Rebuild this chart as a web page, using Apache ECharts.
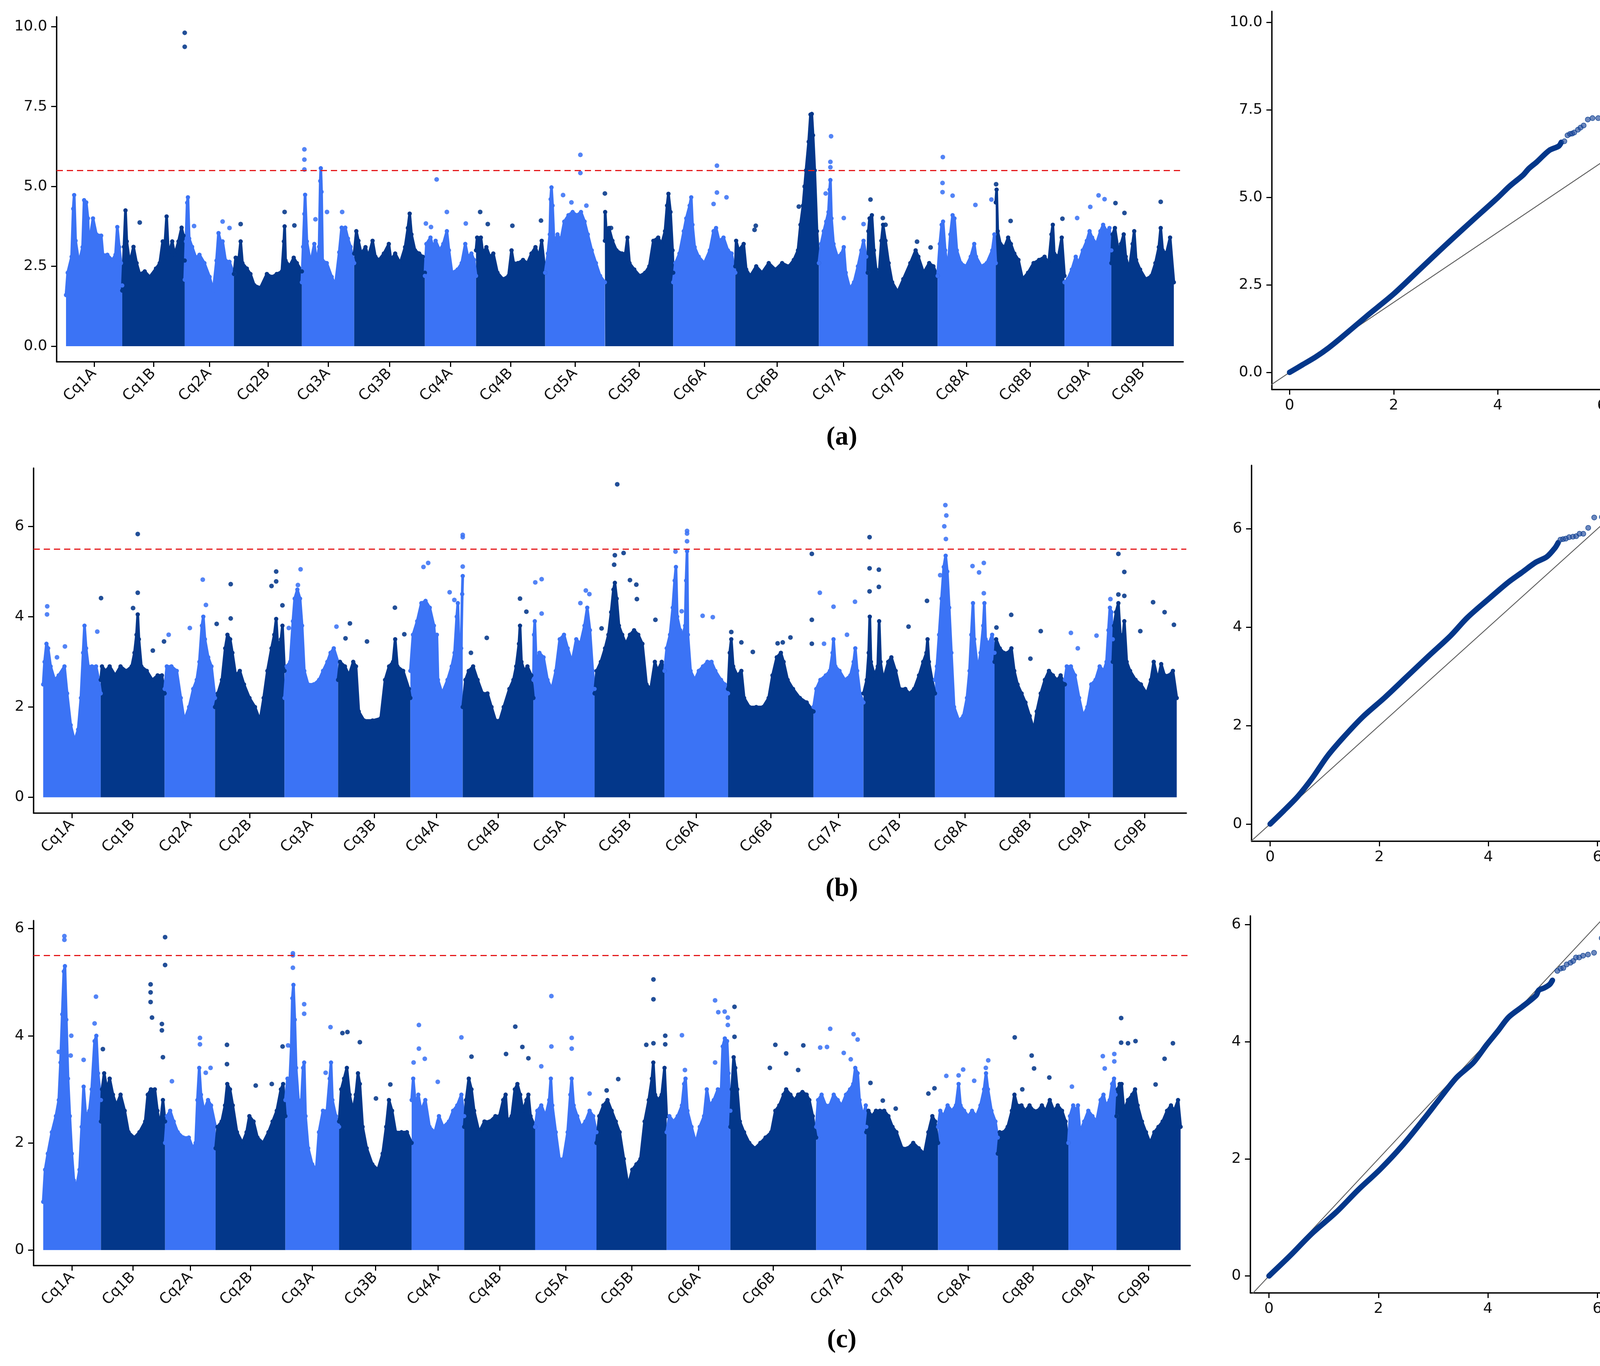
<!DOCTYPE html>
<html><head><meta charset="utf-8">
<script src="https://cdn.jsdelivr.net/npm/echarts@6/dist/echarts.min.js"></script>
<style>html,body{margin:0;padding:0;background:#fff}#c{width:4294px;height:3496px}</style>
</head><body><div id="c"></div>
<script>
// ---------- DATA ----------
const chromosomes = ['Cq1A','Cq1B','Cq2A','Cq2B','Cq3A','Cq3B','Cq4A','Cq4B','Cq5A','Cq5B','Cq6A','Cq6B','Cq7A','Cq7B','Cq8A','Cq8B','Cq9A','Cq9B'];
// relative chromosome lengths
const chromLengths = [144,160,126,174,134,181,131,177,153,175,159,214,125,179,149,176,120,160];
const threshold = 5.5;

// Panel (a): upper envelope of -log10(p) per chromosome, [position % along chromosome, value]
const peaksA = [
 [[0,1.6],[3,2.3],[10,2.8],[12.8,4.3],[14.5,4.73],[17,3.3],[23,2.6],[29.5,3.1],[32.2,4.57],[36,4.5],[39,4.0],[42,2.3],[43.6,3.5],[48,4.0],[54,3.5],[62.6,3.46],[65.6,2.86],[73.6,2.86],[82.4,2.7],[88,2.86],[91.2,3.73],[94.7,3.1],[97.8,2.6],[100,1.9]],
 [[0,1.74],[2.8,3.11],[5.2,4.25],[7.2,3.28],[12,2.6],[18,3.11],[23,2.6],[28,2.26],[36,2.34],[44,2.17],[54,2.43],[60,2.6],[64.8,3.28],[68,3.11],[71,4.06],[74,2.86],[80,3.28],[84,2.86],[90,3.28],[95,3.71],[98,3.46],[100,2.68]],
 [[0,2.08],[2.5,3.28],[5,4.49],[6.5,4.66],[9,3.37],[15,3.11],[22.7,2.77],[30,2.86],[40,2.6],[50.5,2.17],[58,1.74],[64.6,2.68],[68.7,3.54],[73,3.28],[77,3.28],[83,2.68],[91,2.64],[100,2.26]],
 [[0,2.26],[2.6,2.77],[7.4,2.77],[9.9,3.28],[12.5,2.6],[19,2.43],[24.3,2.26],[30,1.91],[39,1.83],[48.5,2.26],[55.9,2.17],[63,2.26],[70.6,2.34],[73.5,3.28],[74.6,3.75],[76,2.68],[82,2.51],[88,2.77],[92.6,2.6],[100,2.34]],
 [[0,2.0],[2.4,3.11],[4.8,4.14],[6.2,4.74],[9.5,3.28],[16.7,2.6],[23.8,3.2],[28.6,2.6],[33,3.11],[35.2,5.17],[36.2,5.57],[37.6,4.83],[39.5,2.68],[47.6,2.6],[57,2.17],[64,1.91],[71.4,2.94],[76,3.71],[83,3.71],[88,3.37],[93,3.11],[100,2.6]],
 [[0,2.9],[3,3.6],[6,3.3],[10,2.9],[16,3.1],[20,2.8],[26,3.3],[30,2.8],[35,2.7],[42,2.9],[49,3.2],[52,2.7],[58,2.9],[65,2.6],[72,3.1],[76,3.7],[78.5,4.15],[81,3.5],[86,3.0],[92,2.9],[97,2.8],[100,2.3]],
 [[0,2.2],[3,3.2],[11,3.4],[16,3.1],[21,3.3],[29,3.0],[36,3.2],[43,3.6],[47,3.0],[53,2.3],[64,2.4],[72,2.6],[79,3.2],[84,2.8],[91,2.9],[96,2.7],[100,2.2]],
 [[0,3.0],[1.6,3.4],[7,3.4],[10,2.9],[15,3.1],[20,2.8],[25,2.9],[31,2.3],[39,2.1],[47,2.2],[51.4,3.0],[54.5,2.6],[60.5,2.6],[68,2.7],[74.3,2.6],[80.2,2.9],[86,3.1],[91,2.8],[95,3.3],[100,2.3]],
 [[0,2.3],[4.6,2.9],[7.8,3.5],[9.2,4.6],[10.6,4.97],[12.4,4.4],[15,3.2],[20.7,3.5],[26,3.3],[32,3.9],[39,4.1],[46,4.2],[53,4.1],[60,4.2],[66,3.9],[71.4,3.5],[78,3.0],[85,2.6],[92,2.2],[100,2.0]],
 [[0,3.3],[0.4,4.2],[2,3.6],[6,3.7],[11,3.3],[17,3.0],[25,2.9],[30,2.9],[33,3.4],[36,2.6],[43,2.4],[51,2.2],[59,2.3],[65,2.5],[71,3.3],[78,3.4],[83,3.2],[88,3.6],[91,4.4],[93,4.77],[96,4.2],[99,3.0],[100,2.3]],
 [[0,2.0],[3.5,2.6],[10,2.9],[17,3.6],[21,4.0],[26.5,4.4],[29,4.66],[31,3.8],[34.5,3.1],[41,2.8],[50,2.6],[59,3.0],[65,3.6],[69,3.7],[74,3.3],[81,3.4],[88,3.0],[94,2.9],[100,2.3]],
 [[0,2.5],[1,3.3],[4,3.0],[10,3.2],[13,2.4],[18,2.2],[25,2.5],[32,2.3],[40,2.6],[48,2.4],[56,2.6],[64,2.5],[70,2.7],[75,3.0],[78,3.8],[81,4.4],[84.6,5.5],[87.8,6.4],[90,7.25],[91.5,7.27],[93,6.6],[95,5.5],[97.7,3.6],[100,2.6]],
 [[0,2.6],[4.5,3.2],[10,3.6],[15,3.9],[19.7,4.2],[22,4.9],[23.6,5.2],[25.8,4.0],[30,3.2],[38,2.8],[46.6,2.9],[51,3.1],[55,2.3],[63.5,1.8],[72,2.0],[80,2.5],[87,3.0],[91.5,3.3],[97,2.8],[100,2.3]],
 [[0,2.3],[1,3.6],[2.7,4.0],[6,4.1],[9,3.0],[12,2.4],[15.7,2.1],[19.6,3.3],[22,3.8],[25.5,3.3],[30,2.6],[35,2.0],[43,1.7],[51,2.1],[61,2.6],[68.6,3.0],[72.5,2.8],[80,2.3],[88,2.6],[94,2.5],[100,2.2]],
 [[0,2.2],[3.8,3.2],[7,3.8],[9.4,3.9],[13,3.0],[17.8,2.4],[22,3.5],[25.8,4.1],[29,4.0],[33,3.0],[40,2.6],[49,2.5],[57,2.8],[63,3.2],[66,2.8],[75,2.5],[84.5,2.6],[94,3.0],[97.6,3.5],[100,2.6]],
 [[0,4.5],[1.2,4.9],[2.8,3.6],[6.8,3.2],[12.8,3.1],[18,3.4],[22,3.2],[27,2.9],[33,2.7],[39,2.1],[47,2.3],[55,2.6],[63,2.7],[71,2.8],[77,2.6],[81,3.5],[83,3.8],[85,2.9],[91,2.8],[96,3.4],[100,2.2]],
 [[0,2.0],[7,2.1],[15.7,2.4],[24,2.8],[30,2.6],[39,3.0],[47.7,3.3],[53.5,3.6],[59,3.4],[68,3.2],[76.7,3.6],[82.5,3.8],[90,3.6],[96,3.7],[100,3.0]],
 [[0,2.6],[2,3.5],[5.7,3.7],[11,3.0],[15.4,3.2],[19.8,3.5],[23,2.8],[28.6,2.4],[34,3.2],[36.6,3.6],[39.6,2.7],[46,2.4],[55,2.1],[64,2.2],[70.5,2.6],[76,3.1],[79,3.7],[82,3.0],[88,2.9],[94,3.4],[100,2.0]]
];
// isolated SNPs above the envelope: [chromosome index, position %, value]
const outliersA = [
 [1,100,9.81],[1,100,9.37],[1,28,3.87],
 [2,77,3.9],[2,91,3.7],[2,19,3.76],
 [3,74.6,4.2],[3,9.9,3.82],[3,89,3.78],
 [4,4.8,6.16],[4,4.8,5.84],[4,4.8,5.53],[4,48,4.2],[4,77,4.2],[4,26,3.97],
 [6,23,5.22],[6,43,4.2],[6,2,3.84],[6,12,3.73],[6,80,3.84],
 [7,6,4.2],[7,52.6,3.77],[7,94,3.93],[7,17,3.82],
 [8,59,5.99],[8,59,5.42],[8,30,4.73],[8,44,4.5],[8,69,4.4],
 [9,0,4.78],[9,9,3.7],
 [10,70.4,5.65],[10,70.4,4.81],[10,85.8,4.66],[10,65,4.45],
 [11,24.5,3.77],[11,76,4.37],[11,83,5.0],[11,23,3.64],
 [12,25,6.57],[12,23.6,5.77],[12,23.6,5.6],[12,51,4.01],[12,91.5,3.82],[12,14,4.78],
 [13,4,4.59],[13,21.6,4.01],[13,25.5,3.8],[13,70.6,3.27],[13,90,3.09],
 [14,9,5.92],[14,8.5,5.11],[14,8.5,4.82],[14,25.8,4.71],[14,65,4.42],[14,92.5,4.59],
 [15,0.5,5.07],[15,21.6,3.92],[15,97,3.99],
 [16,72.7,4.72],[16,55,4.36],[16,85.5,4.6],[16,27,4.01],
 [17,6.6,4.48],[17,21,4.17],[17,79,4.52]
];

// Panel (b)
const peaksB = [
 [[0,2.5],[2.4,3.0],[5.7,3.4],[8.6,3.3],[12.9,2.9],[20,2.6],[27,2.7],[37,2.9],[41.6,2.3],[47.8,1.6],[54.5,1.25],[60.8,1.5],[65.6,2.2],[69.4,3.2],[71.8,3.8],[74.6,3.3],[78.5,2.9],[84.7,2.9],[91.9,2.9],[96.7,2.6],[100,2.3]],
 [[0,2.6],[2,2.9],[7.7,2.8],[14,2.9],[22.7,2.7],[31,2.9],[40,2.8],[48.5,2.9],[52.8,3.2],[56,3.6],[57.9,4.05],[59.7,3.5],[63.5,2.9],[72,2.8],[80.7,2.6],[89,2.7],[95.7,2.7],[100,2.3]],
 [[0,2.4],[4.3,2.9],[13.5,2.9],[24,2.8],[32,2.2],[38.9,1.7],[48.6,2.0],[56.8,2.4],[63.8,2.6],[69,3.0],[74,3.8],[76.8,4.0],[80,3.5],[86.5,3.1],[93,2.9],[100,2.2]],
 [[0,2.0],[4,2.3],[10,2.6],[14.7,3.3],[17.9,3.6],[21.8,3.5],[25,3.2],[29.8,2.7],[35.7,2.8],[41.7,2.5],[49.6,2.2],[57.5,2.0],[64.7,1.7],[70,2.2],[75.4,2.8],[81.3,3.3],[85.3,3.6],[88,3.95],[90.5,3.3],[95,3.5],[97,3.8],[100,2.8]],
 [[0,2.2],[4,2.9],[10.6,3.0],[15.7,3.9],[19,4.4],[24,4.6],[29,4.4],[32.8,3.8],[36.9,2.8],[44,2.5],[54.5,2.5],[64.6,2.6],[72,2.8],[80,3.0],[86,3.2],[92,3.3],[100,3.0]],
 [[0,2.6],[2.7,3.0],[9.5,2.9],[15,2.7],[21,3.0],[24.8,2.9],[28.6,1.9],[36,1.7],[47.7,1.7],[59,1.75],[65,2.6],[70.6,2.9],[76,3.0],[79,3.5],[82,2.9],[90,2.8],[98,2.4],[100,2.2]],
 [[0,2.8],[5,3.6],[13,3.9],[21,4.3],[29,4.35],[37,4.2],[45,3.8],[48.5,3.3],[50.6,3.6],[52.7,2.6],[60.7,2.3],[71,2.6],[79,2.9],[84.4,3.2],[88.6,4.0],[90.7,4.3],[92.8,3.4],[97,3.3],[99,4.5],[100,4.9]],
 [[0,2.0],[3.9,2.6],[8.5,2.8],[14.7,2.9],[21,2.6],[28,2.3],[35,2.3],[40.7,2.0],[46.5,1.7],[52.3,1.7],[58,2.0],[66,2.4],[71.7,2.6],[75.6,2.9],[79.5,3.4],[81,3.8],[83,3.0],[87,2.8],[91.5,2.9],[97,2.7],[100,2.2]],
 [[0,2.6],[0.9,3.6],[2.2,3.9],[4.5,3.0],[9.8,3.2],[16.5,3.1],[23,2.6],[30,2.4],[36.6,2.8],[43,3.5],[50,3.6],[56,3.3],[63,3.0],[70,3.5],[76.8,3.4],[83.5,3.8],[88,4.2],[92.4,3.7],[96.9,2.8],[100,2.4]],
 [[0,2.3],[3,2.8],[9,3.0],[15,3.3],[19.8,3.6],[23.7,4.1],[27,4.6],[29,4.75],[31.6,4.4],[34.8,3.8],[39.5,3.6],[44.7,3.4],[50.6,3.6],[56.5,3.7],[62.5,3.6],[68.4,3.4],[74.3,2.5],[80.2,2.4],[86.2,3.0],[90,2.8],[96,3.0],[100,2.8]],
 [[0,2.8],[3.5,3.3],[8.7,3.6],[13,4.2],[16,4.8],[18,5.1],[20,4.0],[24.7,3.7],[29,3.6],[32.5,3.8],[34,4.8],[35.5,5.45],[36.8,3.6],[41,2.8],[47.6,2.6],[54,2.8],[60.6,2.9],[67.5,3.0],[74,3.0],[80,2.8],[89,2.6],[95,2.5],[100,2.3]],
 [[0,2.4],[2,3.2],[3.8,3.5],[6,2.9],[10.8,2.7],[15.6,2.8],[18.8,2.2],[25,2.0],[33,2.0],[41,2.0],[47.5,2.2],[52,2.7],[57,3.1],[61.8,3.2],[65,3.0],[69.7,2.6],[76,2.4],[84,2.2],[92,2.1],[100,1.9]],
 [[0,2.0],[5.5,2.4],[13.7,2.6],[24.6,2.7],[32.8,2.8],[38,3.2],[40,3.5],[43.7,2.9],[52,2.8],[62.8,2.6],[73.8,2.7],[80.3,3.0],[83.6,3.3],[87.4,2.8],[93,2.3],[100,2.1]],
 [[0,2.3],[4.6,2.6],[7.3,3.2],[8.8,4.0],[10.4,3.0],[15.4,2.7],[20,2.9],[21.9,3.9],[23.8,3.0],[27.7,2.6],[34.6,3.0],[39,3.1],[45,2.8],[50.8,2.4],[58.5,2.4],[64,2.3],[70.8,2.4],[77.7,2.7],[83.5,3.0],[88,3.2],[89.6,3.5],[91.5,3.0],[96,2.6],[100,2.3]],
 [[0,2.6],[3.2,2.9],[6.9,3.6],[11,4.4],[14.7,5.1],[17.9,5.35],[20.6,5.0],[23.8,4.2],[27.5,3.2],[32,2.0],[40,1.7],[47.7,1.8],[53.7,2.2],[58,2.8],[61,3.6],[63.8,4.3],[66,3.5],[72,2.8],[76.6,3.2],[81,3.8],[83,4.3],[85,3.5],[90.4,3.4],[96,3.6],[100,3.2]],
 [[0,3.0],[2.3,3.5],[7.4,3.3],[13.2,3.2],[19,3.2],[24,3.3],[28,2.8],[32.7,2.5],[38.5,2.3],[44,2.1],[50,1.8],[56,1.5],[60,1.9],[65.7,2.3],[71.6,2.6],[77.4,2.8],[83,2.7],[89,2.6],[94,2.7],[100,2.5]],
 [[0,2.6],[4,2.9],[12.6,2.9],[21,2.7],[29.7,2.2],[38,1.8],[47,2.0],[55,2.5],[64,2.6],[72.6,2.9],[81,2.8],[86.9,3.0],[90.9,3.7],[94,4.2],[97,4.1],[100,3.5]],
 [[0,3.0],[2,3.8],[5,4.1],[8.7,4.3],[11.7,3.6],[14.8,3.4],[18,3.9],[21.7,3.0],[27,2.8],[35.6,2.6],[44,2.5],[53,2.3],[59.6,2.6],[64,3.0],[70.4,2.6],[75.7,2.95],[81,2.7],[87.8,2.7],[94,2.8],[100,2.2]]
];
const outliersB = [
 [0,7,4.23],[0,6.7,4.05],[0,37.8,3.34],[0,94,3.67],[0,24,3.1],
 [1,57.9,5.83],[1,57.9,4.53],[1,0.5,4.41],[1,50.6,4.19],[1,99,3.45],[1,81.5,3.25],
 [2,75.7,4.82],[2,82,4.26],[2,50,3.75],[2,8,3.6],
 [3,88,5.0],[3,88,4.78],[3,81.3,4.68],[3,22.6,4.72],[3,22.6,3.96],[3,2.4,3.84],[3,97,4.25],
 [4,30,5.05],[4,25,4.7],[4,97,3.78],[4,8,3.75],
 [5,78.6,4.2],[5,16.4,3.85],[5,10.3,3.52],[5,40,3.45],[5,91.6,3.61],
 [6,100,5.81],[6,100,5.76],[6,100,5.11],[6,34,5.19],[6,25,5.1],[6,75,4.54],[6,84,4.37],
 [7,81,4.4],[7,90,4.11],[7,34,3.53],[7,11.6,3.2],
 [8,13.4,4.83],[8,3,4.76],[8,13.4,4.07],[8,85.7,4.58],[8,91.5,4.5],[8,76.8,4.3],
 [9,32.4,6.93],[9,29,5.36],[9,41.5,5.41],[9,28,5.15],[9,50.6,4.81],[9,59.7,4.71],[9,60.5,4.39],[9,87,3.93],[9,10,3.74],
 [10,35.5,5.9],[10,35.5,5.84],[10,35.5,5.67],[10,17.3,5.44],[10,60,4.02],[10,76,3.99],[10,27,4.12],
 [11,3.8,3.66],[11,15.6,3.43],[11,64,3.43],[11,73,3.54],[11,58,3.41],[11,29,3.22],[11,98,5.39],[11,98,3.93],[11,98,3.4],
 [12,12.6,4.53],[12,40,4.22],[12,83,4.33],[12,67,3.6],[12,21,3.4],
 [13,8.5,5.76],[13,8.5,5.07],[13,21.5,5.04],[13,8.5,4.56],[13,21.5,4.66],[13,88.8,4.35],[13,63,3.78],
 [14,17.4,6.47],[14,19,6.24],[14,15.6,6.0],[14,18.3,5.72],[14,8.7,4.92],[14,63,5.12],[14,82,5.19],[14,74,4.98],[14,82,4.52],
 [15,23.7,4.04],[15,65.7,3.68],[15,2.7,3.76],[15,51,3.07],
 [16,95,4.39],[16,12.6,3.64],[16,66,3.58],[16,27,3.3],
 [17,8.7,5.39],[17,18,4.99],[17,8.7,4.49],[17,18,4.46],[17,63,4.32],[17,81,4.1],[17,95.6,3.82],[17,43,3.68]
];

// Panel (c)
const peaksC = [
 [[0,0.9],[3.3,1.5],[8,1.8],[15,2.2],[22,2.5],[27,2.8],[30,3.5],[33,4.4],[35.7,5.2],[37.6,5.3],[40,4.3],[42.9,3.2],[46,2.5],[49.5,1.8],[53,1.3],[58,1.2],[62.9,1.5],[66.7,2.3],[70,3.05],[73.8,2.5],[80,2.6],[84,3.0],[89,3.9],[92,4.0],[95,3.3],[100,2.8]],
 [[0,2.4],[1.7,3.0],[5,3.3],[9.4,3.0],[13.6,3.2],[18.7,2.9],[24,2.7],[30.6,2.9],[37,2.6],[43,2.2],[52,2.1],[60,2.2],[69,2.4],[73,2.9],[77.9,3.0],[84,3.0],[88,2.6],[92,2.3],[96.6,2.8],[100,2.4]],
 [[0,2.0],[3.8,2.5],[10,2.6],[17,2.4],[25,2.2],[36,2.1],[47,2.1],[55,1.9],[60.5,2.0],[64,2.8],[67.6,3.4],[71,2.9],[77,2.6],[85,2.8],[91,2.7],[100,2.3]],
 [[0,1.9],[2.8,2.3],[8.7,2.4],[13.5,2.7],[16.7,3.1],[20.6,3.0],[24.6,2.7],[30.6,2.2],[38.5,2.0],[44.4,2.2],[48.4,2.5],[54.4,2.4],[60,2.1],[68,2.0],[75.8,2.2],[81.7,2.4],[87.7,2.6],[93.6,3.0],[96.8,3.1],[100,2.5]],
 [[0,2.8],[4,3.2],[7.5,3.0],[11,3.8],[13,4.7],[15,4.95],[17.5,4.3],[20,3.4],[25,2.7],[30,2.8],[33,3.4],[35,3.5],[37.5,2.5],[42.5,1.9],[50,1.6],[57.5,1.5],[62.5,2.2],[70,2.6],[77.5,2.6],[82.5,3.2],[85,3.5],[87.5,2.8],[94,2.5],[100,2.3]],
 [[0,2.4],[3,3.0],[6.9,3.2],[10.7,3.4],[14.5,2.9],[19,2.6],[23,2.9],[26,3.3],[28.6,3.1],[32.4,2.3],[38,1.9],[45.8,1.6],[53.4,1.5],[60,1.8],[64.9,2.3],[68.7,2.8],[73,2.6],[78,2.2],[86,2.2],[93.5,2.2],[100,2.0]],
 [[0,2.8],[3,3.2],[7.4,2.7],[12.7,2.9],[18,2.6],[26,2.8],[34,2.3],[44,2.2],[52,2.5],[60,2.3],[71,2.4],[79,2.6],[86.8,2.7],[94.7,2.9],[100,2.5]],
 [[0,2.3],[2.7,2.8],[6.5,3.2],[10.3,3.0],[14,2.6],[21,2.2],[28.6,2.4],[36,2.4],[44,2.5],[49.6,2.5],[55,2.8],[58.4,2.9],[61,2.4],[67,2.5],[71.4,3.0],[75,3.1],[79,2.9],[82.8,2.6],[87.8,2.8],[90.5,2.9],[93.5,2.5],[100,2.3]],
 [[0,2.3],[3.6,2.6],[10,2.7],[17,2.5],[23,2.8],[25.6,3.2],[28,2.7],[33.6,2.2],[39.5,1.7],[46,1.7],[53,2.2],[57.4,2.9],[59.6,3.2],[62.8,2.7],[68.6,2.5],[75,2.3],[82,2.4],[88.8,2.6],[94.6,2.5],[100,2.2]],
 [[0,2.0],[4,2.5],[9.8,2.7],[15.7,2.8],[21.6,2.6],[27.5,2.4],[33,2.2],[39,1.7],[45,1.2],[51,1.5],[56.9,1.6],[62.7,1.7],[68.6,2.4],[74.5,2.8],[79,3.2],[81,3.5],[83.5,2.9],[88,2.8],[93,2.9],[97,3.4],[100,2.5]],
 [[0,2.2],[4.3,2.5],[10.9,2.4],[17.4,2.5],[24,2.7],[27.4,3.1],[29.6,3.2],[32.6,2.6],[39,2.3],[45.7,2.0],[52,2.3],[58.7,2.5],[63,3.0],[67.4,2.7],[74,2.8],[80.4,3.0],[85.6,3.0],[88,3.8],[91.3,3.95],[94.8,3.9],[97,3.3],[100,2.6]],
 [[0,2.3],[1.6,3.0],[3.8,3.6],[5.7,3.4],[8,3.0],[11,2.4],[15.9,2.2],[22,2.0],[28.6,1.9],[35,2.0],[41,2.1],[47.6,2.2],[52.4,2.6],[57,2.7],[62,2.9],[65,3.0],[70,2.9],[74.6,2.8],[79,2.9],[84,2.95],[88.9,2.9],[92,2.8],[96,2.5],[100,2.1]],
 [[0,2.3],[3.8,2.8],[10.8,2.9],[19,2.7],[27,2.7],[35,2.9],[43,2.8],[51,2.7],[59.5,2.9],[67.6,3.0],[74,3.1],[78,3.4],[82.7,3.3],[86.5,2.8],[93.5,2.5],[99,2.7],[100,2.3]],
 [[0,2.2],[3,2.6],[7.7,2.5],[13.5,2.6],[19,2.6],[25,2.6],[30.8,2.5],[36.5,2.3],[42,2.2],[50,1.9],[57.7,1.9],[65.4,2.0],[73,1.9],[80.8,1.8],[86.5,2.2],[92,2.5],[96,2.4],[100,2.0]],
 [[0,2.3],[3.7,2.6],[9,2.5],[16,2.7],[23,2.6],[30,2.7],[34.4,3.1],[37.6,2.7],[43.6,2.6],[50.5,2.5],[57,2.6],[64,2.5],[71,2.7],[77,3.0],[80.3,3.3],[83.5,3.0],[89.4,2.6],[96,2.4],[100,2.1]],
 [[0,1.8],[2.7,2.2],[8.5,2.2],[14,2.3],[20,2.6],[23.6,2.9],[27.4,2.7],[33.6,2.7],[39,2.6],[45,2.7],[51,2.6],[56.8,2.6],[62.5,2.7],[68,2.6],[73.7,2.8],[79.5,2.6],[85,2.7],[91,2.6],[96,2.4],[100,2.0]],
 [[0,2.0],[3.4,2.5],[10,2.7],[16,2.6],[20,2.7],[24,2.2],[33,2.4],[41.5,2.6],[50,2.5],[58.5,2.4],[67,2.8],[73,2.9],[78,2.7],[86,2.8],[91,3.1],[95,3.2],[98,2.9],[100,2.5]],
 [[0,2.5],[2,3.0],[5,3.1],[8,3.1],[11.6,2.6],[18,2.8],[24.6,2.9],[29,3.0],[33,2.7],[39.7,2.4],[46,2.2],[52.6,2.0],[59,2.2],[65.5,2.3],[72,2.4],[78.9,2.6],[85,2.7],[90,2.6],[96,2.8],[100,2.3]]
];
const outliersC = [
 [0,36.7,5.86],[0,36.7,5.79],[0,48.6,4.0],[0,91.4,4.73],[0,89,4.23],[0,27,3.7],[0,70,3.55],[0,47.6,3.63],
 [1,100,5.84],[1,100,5.32],[1,77.4,4.96],[1,77.4,4.81],[1,77.4,4.63],[1,79.6,4.34],[1,95,4.22],[1,95,4.1],[1,3,3.75],[1,96.6,3.6],
 [2,69,3.96],[2,69,3.84],[2,90,3.4],[2,13.5,3.15],[2,80.5,3.31],
 [3,16.3,3.83],[3,16.3,3.47],[3,96,3.8],[3,57.5,3.07],[3,80.5,3.1],
 [4,14,5.54],[4,14,5.5],[4,14,5.27],[4,35,4.59],[4,35,4.41],[4,84,4.16],[4,5,3.82],[4,75,3.31],
 [5,4.6,4.05],[5,11.5,4.07],[5,28.6,3.88],[5,70.6,3.09],[5,50.8,2.83],
 [6,13.8,4.2],[6,13.8,3.76],[6,25,3.57],[6,94.7,3.97],[6,49.7,3.14],[6,3.7,3.5],
 [7,72,4.17],[7,82,3.79],[7,59,3.66],[7,10.3,3.61],[7,90.5,3.58],
 [8,26.5,4.74],[8,26.5,3.8],[8,59.6,3.96],[8,59.6,3.76],[8,10,3.43],[8,88.8,2.92],
 [9,81.2,5.05],[9,81.2,4.68],[9,81.2,3.86],[9,98,4.0],[9,98,3.84],[9,71,3.83],[9,31,3.19],[9,14.5,2.98],
 [10,76,4.66],[10,81,4.44],[10,91,4.45],[10,96,4.34],[10,96,4.2],[10,24,4.01],[10,76,3.5],[10,28.7,3.36],
 [11,4.8,4.54],[11,4.8,3.98],[11,52.4,3.83],[11,85,3.82],[11,65,3.67],[11,46,3.4],[11,79,3.36],
 [12,28,4.13],[12,74.6,4.03],[12,82.7,3.93],[12,8,3.78],[12,21.6,3.79],[12,55,3.68],[12,69,3.56],
 [13,5.8,3.12],[13,23,2.79],[13,41,2.64],[13,86.5,2.92],[13,95,3.02],
 [14,84,3.54],[14,80,3.4],[14,42,3.37],[14,34.4,3.26],[14,13.8,3.25],[14,60.5,3.16],
 [15,24,3.97],[15,48,3.63],[15,51.4,3.39],[15,73,3.22],[15,34.7,3.0],
 [16,71.6,3.62],[16,95.5,3.66],[16,95.5,3.52],[16,75.6,3.39],[16,7.4,3.05],
 [17,7.3,4.33],[17,7.3,3.87],[17,29.7,3.9],[17,18,3.86],[17,88,3.86],[17,75,3.57],[17,61,3.09]
];

// QQ plots: [expected, observed] -log10(p)
const qqCurveA = [[0,0],[0.25,0.22],[0.5,0.44],[0.75,0.7],[1.0,1.0],[1.5,1.63],[2.0,2.24],[2.5,2.94],[3.0,3.64],[3.5,4.32],[4.0,4.99],[4.23,5.32],[4.49,5.64],[4.59,5.81],[4.75,6.01],[4.99,6.34],[5.17,6.46],[5.22,6.57]];
const qqTailA = [[5.28,6.6],[5.34,6.77],[5.39,6.81],[5.43,6.82],[5.47,6.85],[5.54,6.93],[5.59,6.99],[5.65,7.05],[5.73,7.22],[5.82,7.26],[5.93,7.26],[6.07,9.38],[6.3,9.38],[6.78,9.81]];
const qqCurveB = [[0,0],[0.25,0.27],[0.49,0.54],[0.64,0.74],[0.79,0.96],[1.05,1.38],[1.35,1.77],[1.7,2.18],[2.1,2.57],[2.5,2.99],[2.9,3.41],[3.31,3.83],[3.61,4.19],[4.01,4.58],[4.36,4.91],[4.61,5.11],[4.87,5.32],[5.07,5.43],[5.22,5.61],[5.28,5.72]];
const qqTailB = [[5.32,5.78],[5.37,5.79],[5.42,5.8],[5.48,5.83],[5.55,5.84],[5.61,5.85],[5.67,5.9],[5.74,5.9],[5.83,6.02],[5.94,6.23],[6.08,6.24],[6.3,6.47],[6.78,6.94]];
const qqCurveC = [[0,0],[0.38,0.34],[0.78,0.72],[1.23,1.09],[1.63,1.47],[2.03,1.82],[2.43,2.22],[2.83,2.68],[3.13,3.04],[3.43,3.39],[3.73,3.64],[3.98,3.95],[4.18,4.18],[4.38,4.42],[4.63,4.6],[4.88,4.79],[4.93,4.88],[5.03,4.92],[5.13,4.98],[5.18,5.05]];
const qqTailC = [[5.27,5.21],[5.33,5.25],[5.38,5.26],[5.44,5.32],[5.51,5.35],[5.56,5.38],[5.61,5.44],[5.67,5.44],[5.74,5.47],[5.83,5.49],[5.94,5.52],[6.08,5.77],[6.3,5.83],[6.79,5.85]];

const yTicksA = [0, 2.5, 5, 7.5, 10];
const yTicksBC = [0, 2, 4, 6];
const qqXTicks = [0, 2, 4, 6];
const panelLetters = ['a', 'b', 'c'];

// ---------- CHART ----------
const LIGHT = '#3B73F5', DARK = '#03378A';
const FONT = 'DejaVu Sans';
const starts = []; { let acc = 0; chromLengths.forEach(l => { starts.push(acc); acc += l; }); }
const centers = chromLengths.map((l, i) => starts[i] + l / 2);
const pos = (ci, pct) => starts[ci] + chromLengths[ci] * pct / 100;
const colorOf = ci => (ci % 2 === 0 ? LIGHT : DARK);

const panels = [
  {mg:{left:145,top:43,width:2884,height:883}, qg:{left:3256,top:29,width:994,height:968},
   peaks:peaksA, outliers:outliersA, ymin:-0.49, ymax:10.31, yt:yTicksA, dec:1,
   qc:qqCurveA, qt:qqTailA, ty:1125},
  {mg:{left:86,top:1198,width:2951,height:883}, qg:{left:3204,top:1191,width:1042,height:962},
   peaks:peaksB, outliers:outliersB, ymin:-0.35, ymax:7.29, yt:yTicksBC, dec:0,
   qc:qqCurveB, qt:qqTailB, ty:2280},
  {mg:{left:86,top:2356,width:2961,height:883}, qg:{left:3201,top:2344,width:1045,height:965},
   peaks:peaksC, outliers:outliersC, ymin:-0.29, ymax:6.15, yt:yTicksBC, dec:0,
   qc:qqCurveC, qt:qqTailC, ty:3435}
];

const axisLineStyle = {color:'#000', width:3.5};
const tickStyle = {color:'#000', width:3};
const labelStyle = {color:'#111', fontFamily:FONT, fontSize:38};

const grid = [], xAxis = [], yAxis = [], series = [], title = [];
panels.forEach((p, k) => {
  const gi = grid.length;
  grid.push(Object.assign({containLabel:false}, p.mg)); grid.push(Object.assign({containLabel:false}, p.qg));
  // Manhattan axes
  xAxis.push({gridIndex:gi, type:'value', min:-24, max:2861,
    axisLine:{show:true, onZero:false, lineStyle:axisLineStyle}, splitLine:{show:false},
    axisTick:{show:true, customValues:centers, length:13, lineStyle:tickStyle},
    axisLabel:{show:true, customValues:centers, rotate:45, margin:24, ...labelStyle,
      formatter: v => { const i = centers.findIndex(c => Math.abs(c - v) < 0.01); return i >= 0 ? chromosomes[i] : ''; }}});
  yAxis.push({gridIndex:gi, type:'value', min:p.ymin, max:p.ymax,
    axisLine:{show:true, onZero:false, lineStyle:axisLineStyle}, splitLine:{show:false},
    axisTick:{show:true, customValues:p.yt, length:14, lineStyle:tickStyle},
    axisLabel:{show:true, customValues:p.yt, margin:24, ...labelStyle, formatter: v => Number(v).toFixed(p.dec)}});
  // QQ axes
  xAxis.push({gridIndex:gi+1, type:'value', min:-0.34, max:7.12,
    axisLine:{show:true, onZero:false, lineStyle:axisLineStyle}, splitLine:{show:false},
    axisTick:{show:true, customValues:qqXTicks, length:13, lineStyle:tickStyle},
    axisLabel:{show:true, customValues:qqXTicks, margin:22, ...labelStyle, formatter: v => String(Math.round(v))}});
  yAxis.push({gridIndex:gi+1, type:'value', min:p.ymin, max:p.ymax,
    axisLine:{show:true, onZero:false, lineStyle:axisLineStyle}, splitLine:{show:false},
    axisTick:{show:true, customValues:p.yt, length:14, lineStyle:tickStyle},
    axisLabel:{show:true, customValues:p.yt, margin:24, ...labelStyle, formatter: v => Number(v).toFixed(p.dec)}});

  // Manhattan chromosome clouds
  p.peaks.forEach((pts, ci) => {
    const c = colorOf(ci);
    series.push({type:'line', xAxisIndex:gi, yAxisIndex:gi, silent:true, animation:false,
      data: pts.map(([pct, v]) => [pos(ci, pct), v]),
      symbol:'circle', symbolSize:11, showSymbol:true, showAllSymbol:true,
      lineStyle:{color:c, width:7, join:'round'}, itemStyle:{color:c},
      areaStyle:{color:c, opacity:1, origin:'auto'}, z:2});
  });
  // isolated SNPs
  series.push({type:'scatter', xAxisIndex:gi, yAxisIndex:gi, silent:true, animation:false,
    symbolSize:12, z:3,
    data: p.outliers.map(([ci, pct, v]) => ({value:[pos(ci, pct), v], itemStyle:{color:colorOf(ci), opacity:0.88}})),
    markLine:{silent:true, symbol:['none','none'], label:{show:false},
      lineStyle:{color:'#E41A1C', width:3, type:[16,10]},
      data:[{yAxis:threshold}]}});

  // QQ diagonal
  series.push({type:'line', xAxisIndex:gi+1, yAxisIndex:gi+1, silent:true, animation:false,
    data:[[-1,-1],[8,8]], symbol:'none', clip:true,
    lineStyle:{color:'#5a5a5a', width:2.2}, z:1});
  // QQ dense curve
  series.push({type:'line', xAxisIndex:gi+1, yAxisIndex:gi+1, silent:true, animation:false,
    data:p.qc, symbol:'none', smooth:0.3,
    lineStyle:{color:DARK, width:14, cap:'round', join:'round'}, z:2});
  // QQ tail points
  series.push({type:'scatter', xAxisIndex:gi+1, yAxisIndex:gi+1, silent:true, animation:false,
    data:p.qt, symbolSize:13,
    itemStyle:{color:'rgba(40,80,160,0.85)', borderColor:DARK, borderWidth:1.5}, z:3});

  title.push({text:'{p|(}{b|' + panelLetters[k] + '}{p|)}', left:2150, top:p.ty - 44, textAlign:'center',
    textStyle:{rich:{p:{fontFamily:'Liberation Serif', fontSize:68, color:'#000'},
                     b:{fontFamily:'Liberation Serif', fontSize:68, fontWeight:'bold', color:'#000'}}}});
});

const chart = echarts.init(document.getElementById('c'), null, {renderer:'canvas', width:4294, height:3496, devicePixelRatio:1});
chart.setOption({backgroundColor:'#fff', animation:false, title, grid, xAxis, yAxis, series});
</script>
</body></html>
